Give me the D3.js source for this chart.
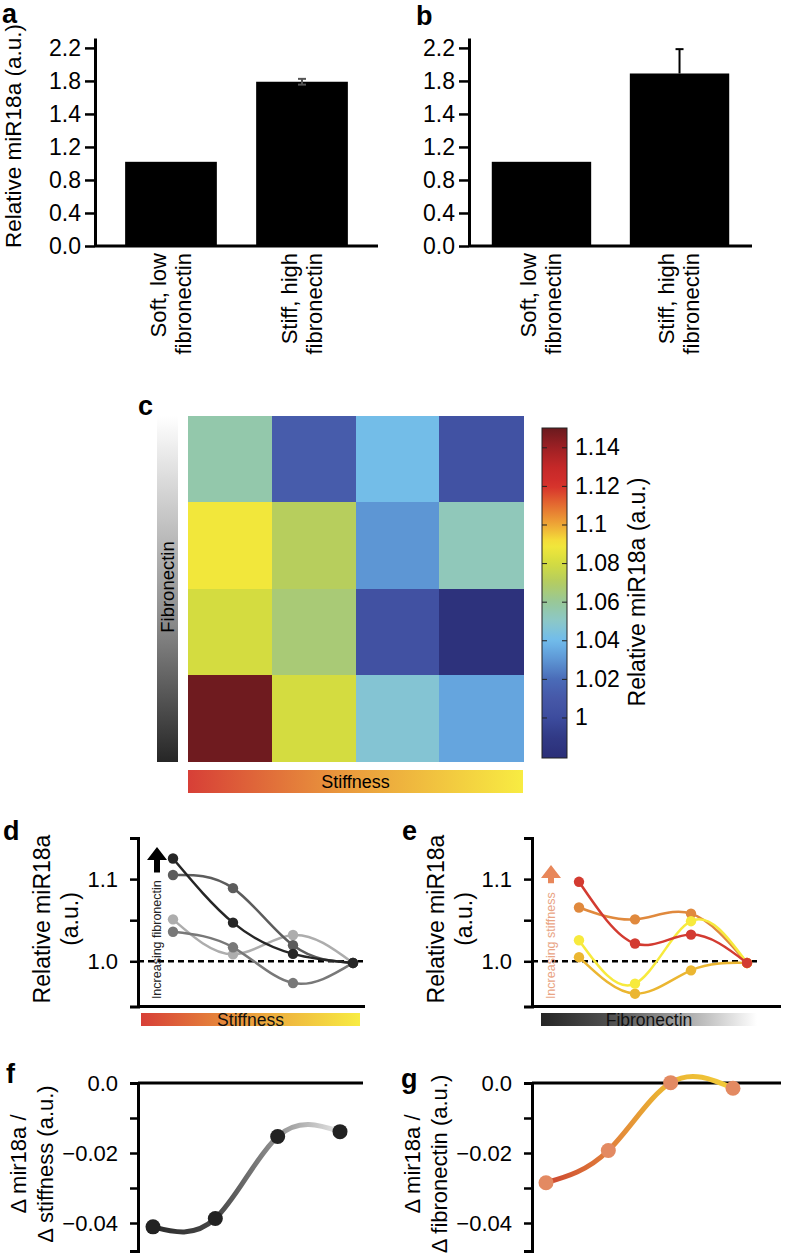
<!DOCTYPE html>
<html>
<head>
<meta charset="utf-8">
<script src="https://cdn.jsdelivr.net/npm/d3@7"></script>
<style>
  body { margin: 0; background: #fff; }
  svg { display: block; font-family: "Liberation Sans", Arial, Helvetica, sans-serif; }
</style>
</head>
<body>
<svg id="chart" width="788" height="1259"></svg>
<script>
// ---- data ----
const barCats = ["Soft, low fibronectin", "Stiff, high fibronectin"];
const barCatLines = [["Soft, low", "fibronectin"], ["Stiff, high", "fibronectin"]];
const barA = [1.02, 1.99];
const errA = [0, 0.035];
const barB = [1.02, 2.09];
const errB = [0, 0.295];
const barTicks = [0, 0.4, 0.8, 1.2, 1.6, 2.0, 2.4];
const barTickLabels = ["0.0", "0.4", "0.8", "1.2", "1.4", "1.8", "2.2"];

const stiffLevels = [1, 2, 3, 4];
const fibLevels = [4, 3, 2, 1];          // top row = most fibronectin
const heatRows = [
  [1.056, 1.012, 1.041, 1.005],
  [1.089, 1.071, 1.030, 1.053],
  [1.080, 1.066, 1.004, 0.982],
  [1.149, 1.080, 1.047, 1.034]
];
const cbarTicks = [1, 1.02, 1.04, 1.06, 1.08, 1.1, 1.12, 1.14];

const trendTicks = [1.0, 1.05, 1.1, 1.15];
const dValues = [
  [1.051, 1.0085, 1.032, 0.998],
  [1.036, 1.017, 0.9735, 0.998],
  [1.105, 1.089, 1.0195, 0.998],
  [1.125, 1.047, 1.009, 0.998]
];
const eValues = [
  [1.005, 0.9606, 0.989, 0.998],
  [1.0655, 1.051, 1.058, 0.998],
  [1.0256, 0.9728, 1.0488, 0.998],
  [1.0967, 1.0216, 1.0325, 0.998]
];

const slopeTicks = [0, -0.01, -0.02, -0.03, -0.04];
const fVals = [-0.0411, -0.0387, -0.0153, -0.0139];
const gVals = [-0.0285, -0.0193, 0.0001, -0.0015];

// ---- styles ----
const dColors = ["#adadad", "#787878", "#5c5c5c", "#262626"];
const eColors = ["#ebb631", "#e0893d", "#f7ea3d", "#d33b31"];
const cmapStops = [0.979, 0.99, 1.00, 1.01, 1.02, 1.03, 1.04, 1.05, 1.06, 1.07, 1.08, 1.09, 1.10, 1.11, 1.12, 1.13, 1.14, 1.15];
const cmapColors = ["#2b2f78", "#313a86", "#3d4c9e", "#4658a8", "#4a6cb8", "#5d96d4", "#70bcec", "#8cc8c8",
  "#98c898", "#b4cc60", "#d4dc40", "#f5e83a", "#eea636", "#e46c30", "#d6302c", "#c42828", "#9c2024", "#6a1a1e"];
const cmap = d3.scaleLinear().domain(cmapStops).range(cmapColors).clamp(true);

const svg = d3.select("#chart");
const defs = svg.append("defs");

function styleAxis(sel, fs) {
  sel.select(".domain").attr("stroke", "#000").attr("stroke-width", 3);
  sel.selectAll(".tick line").attr("stroke", "#000").attr("stroke-width", 2.5);
  sel.selectAll(".tick text").attr("fill", "#000").attr("font-size", fs);
}

function gradient(id, stops, vertical) {
  const lg = defs.append("linearGradient").attr("id", id)
    .attr("x1", 0).attr("y1", 0).attr("x2", vertical ? 0 : 1).attr("y2", vertical ? 1 : 0);
  stops.forEach(s => lg.append("stop").attr("offset", s[0]).attr("stop-color", s[1]));
}
gradient("gStiff", [[0, "#d73f37"], [0.45, "#e9963c"], [1, "#f8ec42"]], false);
gradient("gFibH", [[0, "#252525"], [0.35, "#555"], [1, "#fff"]], false);
gradient("gFibV", [[0, "#fff"], [0.6, "#8a8a8a"], [1, "#262626"]], true);

function panelLabel(t, x, y) {
  svg.append("text").attr("x", x).attr("y", y).attr("font-size", 27).attr("font-weight", "bold").text(t);
}

function rotText(x, y, t, fs, color) {
  return svg.append("text").attr("transform", `translate(${x},${y}) rotate(-90)`)
    .attr("text-anchor", "middle").attr("dy", "0.35em")
    .attr("font-size", fs).attr("fill", color || "#000").text(t);
}

// ---- panels a, b ----
function barPanel(o) {
  const x = d3.scaleBand().domain(barCats).range([o.left, o.right]).paddingInner(o.pi).paddingOuter(o.po);
  const y = d3.scaleLinear().domain([0, 2.52]).range([246, 38]);
  const g = svg.append("g");

  g.selectAll("rect").data(o.vals).join("rect")
    .attr("x", (d, i) => x(barCats[i])).attr("width", x.bandwidth())
    .attr("y", d => y(d)).attr("height", d => y(0) - y(d)).attr("fill", "#000");

  o.vals.forEach((v, i) => {
    const e = o.errs[i];
    if (!e) return;
    const cx = x(barCats[i]) + x.bandwidth() / 2;
    const lo = o.sym ? v - e : v;
    g.append("line").attr("x1", cx).attr("x2", cx).attr("y1", y(lo)).attr("y2", y(v + e))
      .attr("stroke", o.errColor).attr("stroke-width", 2);
    const caps = o.sym ? [lo, v + e] : [v + e];
    caps.forEach(c => g.append("line").attr("x1", cx - o.cap).attr("x2", cx + o.cap)
      .attr("y1", y(c)).attr("y2", y(c)).attr("stroke", o.errColor).attr("stroke-width", 2));
  });

  const ya = g.append("g").attr("transform", `translate(${o.left},0)`)
    .call(d3.axisLeft(y).tickValues(barTicks).tickFormat((d, i) => barTickLabels[i])
      .tickSize(10).tickSizeOuter(0).tickPadding(4));
  styleAxis(ya, 23);

  g.append("line").attr("x1", o.left).attr("x2", o.right).attr("y1", y(0)).attr("y2", y(0))
    .attr("stroke", "#000").attr("stroke-width", 3);

  barCats.forEach((c, i) => {
    const cx = x(c) + x.bandwidth() / 2;
    barCatLines[i].forEach((t, j) => {
      g.append("text").attr("transform", `translate(${cx + (j === 0 ? -13 : 12)},253) rotate(-90)`)
        .attr("text-anchor", "end").attr("dy", "0.35em").attr("font-size", 22).text(t);
    });
  });
}

barPanel({ left: 95, right: 378, pi: 0.3, po: 0.23, vals: barA, errs: errA, sym: true, errColor: "#555", cap: 4 });
barPanel({ left: 469, right: 752, pi: 0.28, po: 0.165, vals: barB, errs: errB, sym: false, errColor: "#000", cap: 4 });
rotText(13, 136, "Relative miR18a (a.u.)", 22.5);
panelLabel("a", 2, 23);
panelLabel("b", 416, 25);

// ---- panel c ----
const xH = d3.scaleBand().domain(stiffLevels).range([188, 523]);
const yH = d3.scaleBand().domain(fibLevels).range([416, 761]);
const cells = [];
heatRows.forEach((row, r) => row.forEach((v, c) => cells.push({ s: stiffLevels[c], f: fibLevels[r], v })));
svg.append("g").selectAll("rect").data(cells).join("rect")
  .attr("x", d => xH(d.s)).attr("y", d => yH(d.f))
  .attr("width", xH.bandwidth() + 0.5).attr("height", yH.bandwidth() + 0.5)
  .attr("fill", d => cmap(d.v)).attr("shape-rendering", "crispEdges");

svg.append("rect").attr("x", 157).attr("y", 416).attr("width", 21).attr("height", 346).attr("fill", "url(#gFibV)");
rotText(168, 587, "Fibronectin", 18.5);
svg.append("rect").attr("x", 188).attr("y", 770).attr("width", 335).attr("height", 23).attr("fill", "url(#gStiff)");
svg.append("text").attr("x", 355.5).attr("y", 781.5).attr("dy", "0.35em").attr("text-anchor", "middle")
  .attr("font-size", 18).text("Stiffness");

const yC = d3.scaleLinear().domain([0.979, 1.150]).range([758, 428]);
const cg = defs.append("linearGradient").attr("id", "gCbar").attr("x1", 0).attr("y1", 1).attr("x2", 0).attr("y2", 0);
d3.range(0, 1.0001, 0.02).forEach(t => {
  const v = yC.domain()[0] + t * (yC.domain()[1] - yC.domain()[0]);
  cg.append("stop").attr("offset", t).attr("stop-color", cmap(v));
});
svg.append("rect").attr("x", 542).attr("y", yC(1.150)).attr("width", 25).attr("height", yC(0.979) - yC(1.150))
  .attr("fill", "url(#gCbar)").attr("stroke", "#222").attr("stroke-width", 1);
const cbR = svg.append("g").attr("transform", "translate(567,0)")
  .call(d3.axisRight(yC).tickValues(cbarTicks).tickFormat(d3.format(".2~f")).tickSize(-5).tickSizeOuter(0).tickPadding(8));
cbR.select(".domain").remove();
cbR.selectAll(".tick line").attr("stroke", "#222").attr("stroke-width", 1);
cbR.selectAll(".tick text").attr("font-size", 23).attr("fill", "#000");
const cbL = svg.append("g").attr("transform", "translate(542,0)")
  .call(d3.axisLeft(yC).tickValues(cbarTicks).tickFormat("").tickSize(-5).tickSizeOuter(0));
cbL.select(".domain").remove();
cbL.selectAll(".tick line").attr("stroke", "#222").attr("stroke-width", 1);
rotText(637, 592, "Relative miR18a (a.u.)", 23);
panelLabel("c", 138, 415);

// ---- panels d, e ----
function trendPanel(o) {
  const x = d3.scalePoint().domain(stiffLevels).range(o.xr);
  const y = d3.scaleLinear().domain([0.945, 1.15]).range([1006.5, 838]);
  const g = svg.append("g");

  g.append("line").attr("x1", o.ax).attr("x2", o.dashEnd).attr("y1", y(1.0)).attr("y2", y(1.0))
    .attr("stroke", "#000").attr("stroke-width", 2.5).attr("stroke-dasharray", "6,4");

  // arrow + annotation
  const ax = o.ax + 19;
  const head = y(o.arrow[0]) + 13;
  g.append("path")
    .attr("d", `M${ax},${y(o.arrow[0])} L${ax + 10},${head} L${ax + 3},${head} L${ax + 3},${y(o.arrow[1])}
      L${ax - 3},${y(o.arrow[1])} L${ax - 3},${head} L${ax - 10},${head}Z`)
    .attr("fill", o.arrowColor);
  g.append("text").attr("transform", `translate(${ax},${y(0.954)}) rotate(-90)`).attr("dy", "0.35em")
    .attr("font-size", 12.5).attr("fill", o.textColor).text(o.note);

  const line = d3.line().x((d, i) => x(stiffLevels[i])).y(d => y(d)).curve(d3.curveNatural);
  o.values.forEach((vals, k) => {
    g.append("path").attr("d", line(vals)).attr("fill", "none")
      .attr("stroke", o.colors[k]).attr("stroke-width", 2.5);
    g.selectAll(null).data(vals).join("circle")
      .attr("cx", (d, i) => x(stiffLevels[i])).attr("cy", d => y(d)).attr("r", 5.2).attr("fill", o.colors[k]);
  });

  const ya = g.append("g").attr("transform", `translate(${o.ax},0)`)
    .call(d3.axisLeft(y).tickValues(trendTicks).tickFormat(d => (d === 1.0 || d === 1.1) ? d.toFixed(1) : "")
      .tickSize(8).tickSizeOuter(8).tickPadding(12));
  styleAxis(ya, 22);
  g.append("line").attr("x1", o.ax).attr("x2", o.right).attr("y1", y(0.945)).attr("y2", y(0.945))
    .attr("stroke", "#000").attr("stroke-width", 3);

  g.append("rect").attr("x", o.bar[0]).attr("y", 1013).attr("width", o.bar[1] - o.bar[0]).attr("height", 13)
    .attr("fill", o.barFill);
  g.append("text").attr("x", (o.bar[0] + o.bar[1]) / 2).attr("y", 1019.5).attr("dy", "0.36em")
    .attr("text-anchor", "middle").attr("font-size", 17.5).attr("fill", "#111").text(o.barText);

  rotText(o.ax - 96, 919, "Relative miR18a", 23);
  rotText(o.ax - 68, 919, "(a.u.)", 23);
}

trendPanel({ ax: 138, xr: [173, 353], right: 365, dashEnd: 363, values: dValues, colors: dColors,
  arrow: [1.139, 1.108], arrowColor: "#000", textColor: "#222", note: "Increasing fibronectin",
  bar: [141, 360], barFill: "url(#gStiff)", barText: "Stiffness" });
trendPanel({ ax: 532, xr: [579, 747], right: 781, dashEnd: 757, values: eValues, colors: eColors,
  arrow: [1.117, 1.095], arrowColor: "#e8875a", textColor: "#e9a484", note: "Increasing stiffness",
  bar: [541, 757], barFill: "url(#gFibH)", barText: "Fibronectin" });
panelLabel("d", 3, 840);
panelLabel("e", 402, 840);

// ---- panels f, g ----
function slopePanel(o) {
  const x = d3.scalePoint().domain(stiffLevels).range(o.xr);
  const y = d3.scaleLinear().domain([-0.048, 0]).range([1251, 1083]);
  const g = svg.append("g");

  const lg = defs.append("linearGradient").attr("id", o.id).attr("gradientUnits", "userSpaceOnUse")
    .attr("x1", o.xr[0]).attr("x2", o.xr[1]).attr("y1", 0).attr("y2", 0);
  o.stops.forEach(s => lg.append("stop").attr("offset", s[0]).attr("stop-color", s[1]));

  const ya = g.append("g").attr("transform", `translate(${o.ax},0)`)
    .call(d3.axisLeft(y).tickValues(slopeTicks)
      .tickFormat(d => (d === 0 ? "0.0" : (d === -0.02 || d === -0.04) ? "\u2212" + (-d).toFixed(2) : ""))
      .tickSize(8).tickSizeOuter(8).tickPadding(12));
  styleAxis(ya, 22);
  g.append("line").attr("x1", o.ax).attr("x2", o.right).attr("y1", y(0)).attr("y2", y(0))
    .attr("stroke", "#000").attr("stroke-width", 3);

  const line = d3.line().x((d, i) => x(stiffLevels[i])).y(d => y(d)).curve(d3.curveNatural);
  g.append("path").attr("d", line(o.vals)).attr("fill", "none")
    .attr("stroke", `url(#${o.id})`).attr("stroke-width", 5);
  g.selectAll("circle").data(o.vals).join("circle")
    .attr("cx", (d, i) => x(stiffLevels[i])).attr("cy", d => y(d)).attr("r", 7.5).attr("fill", o.dot);

  rotText(o.ax - 120, 1164, "\u0394 mir18a /", 22);
  rotText(o.ax - 93, 1164, o.title2, 22);
}

slopePanel({ id: "gLineF", ax: 138, xr: [153, 340], right: 363, vals: fVals, dot: "#222",
  stops: [[0, "#2a2a2a"], [0.35, "#4a4a4a"], [0.7, "#9a9a9a"], [1, "#e6e6e6"]], title2: "\u0394 stiffness (a.u.)" });
slopePanel({ id: "gLineG", ax: 532, xr: [546, 733], right: 781, vals: gVals, dot: "#e38a62",
  stops: [[0, "#cc4530"], [0.35, "#e2823a"], [0.6, "#eab032"], [1, "#f2cc3a"]], title2: "\u0394 fibronectin (a.u.)" });
panelLabel("f", 6, 1083);
panelLabel("g", 401, 1088);
</script>
</body>
</html>
